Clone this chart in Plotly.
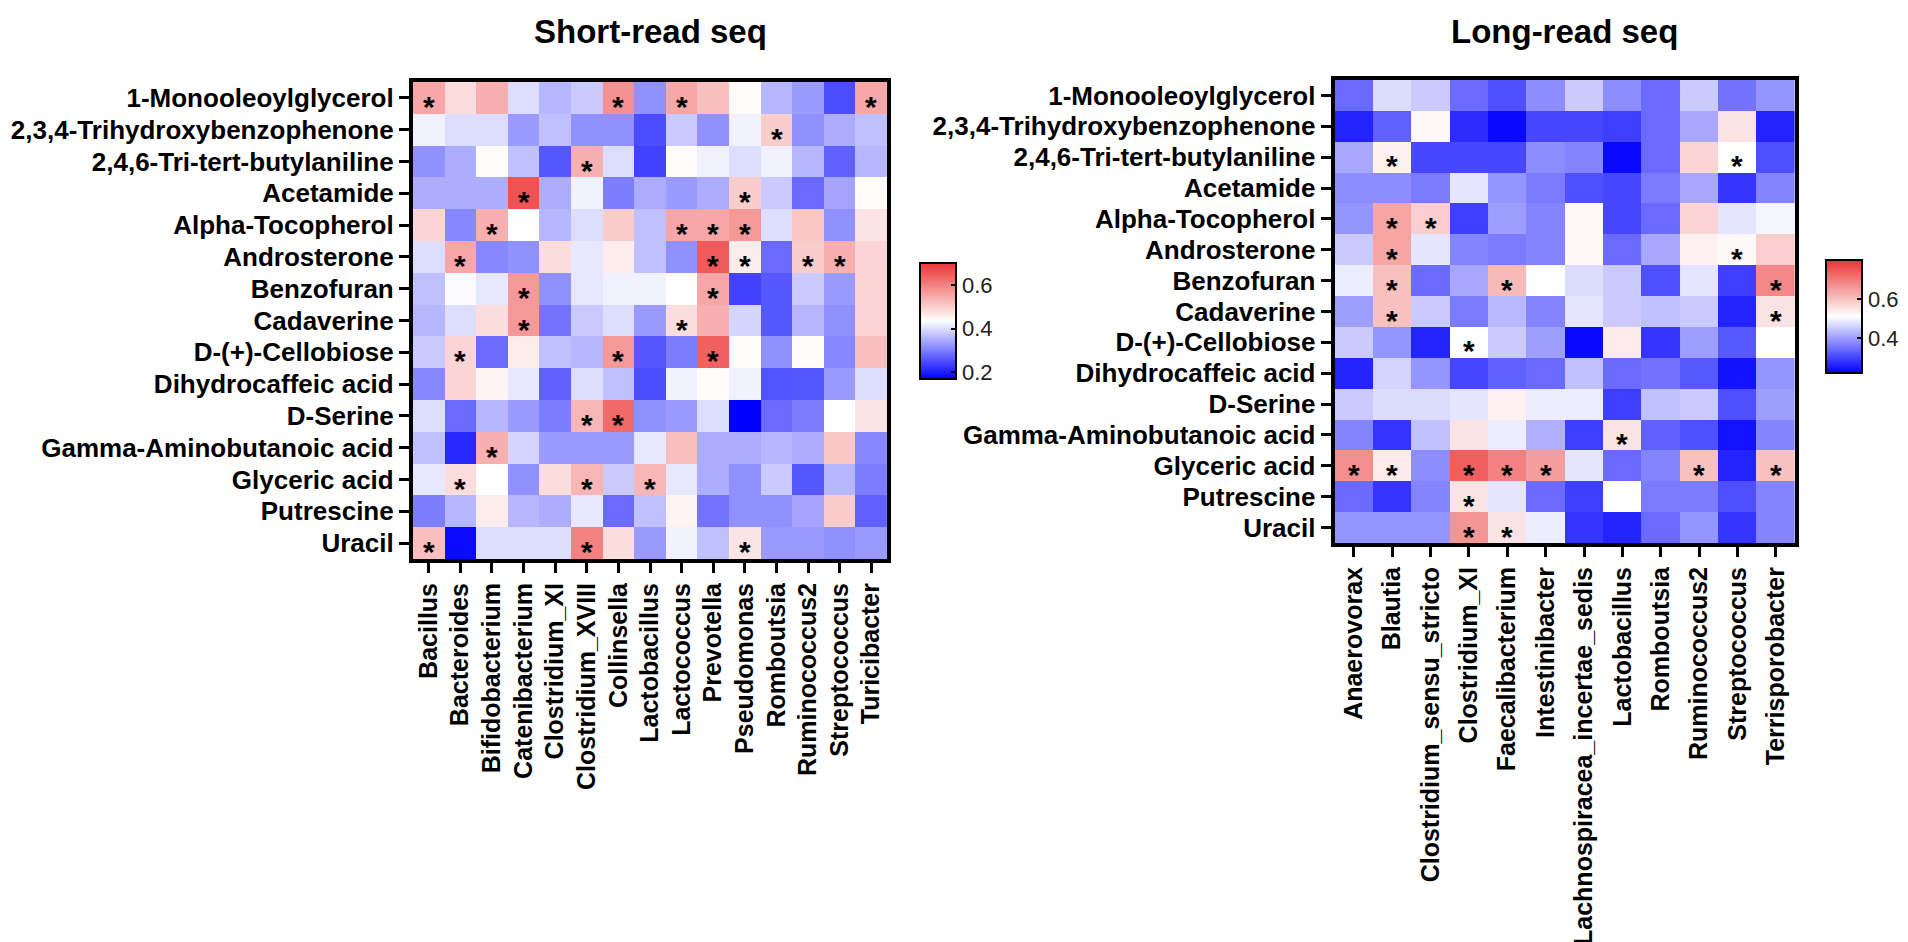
import plotly.graph_objects as go

FONT = "Liberation Sans, Arial, sans-serif"

metabolites = [
    "1-Monooleoylglycerol", "2,3,4-Trihydroxybenzophenone", "2,4,6-Tri-tert-butylaniline",
    "Acetamide", "Alpha-Tocopherol", "Androsterone", "Benzofuran", "Cadaverine",
    "D-(+)-Cellobiose", "Dihydrocaffeic acid", "D-Serine", "Gamma-Aminobutanoic acid",
    "Glyceric acid", "Putrescine", "Uracil",
]

short_genera = [
    "Bacillus", "Bacteroides", "Bifidobacterium", "Catenibacterium", "Clostridium_XI",
    "Clostridium_XVIII", "Collinsella", "Lactobacillus", "Lactococcus", "Prevotella",
    "Pseudomonas", "Romboutsia", "Ruminococcus2", "Streptococcus", "Turicibacter",
]

long_genera = [
    "Anaerovorax", "Blautia", "Clostridium_sensu_stricto", "Clostridium_XI",
    "Faecalibacterium", "Intestinibacter", "Lachnospiracea_incertae_sedis", "Lactobacillus",
    "Romboutsia", "Ruminococcus2", "Streptococcus", "Terrisporobacter",
]

short_values = [
    [0.55, 0.48, 0.54, 0.40, 0.36, 0.38, 0.58, 0.32, 0.55, 0.52, 0.44, 0.36, 0.33, 0.25, 0.55],
    [0.42, 0.40, 0.40, 0.33, 0.37, 0.32, 0.32, 0.25, 0.38, 0.32, 0.42, 0.50, 0.32, 0.35, 0.37],
    [0.32, 0.35, 0.44, 0.37, 0.26, 0.54, 0.40, 0.24, 0.44, 0.42, 0.40, 0.42, 0.36, 0.27, 0.36],
    [0.35, 0.35, 0.35, 0.66, 0.35, 0.42, 0.30, 0.35, 0.33, 0.35, 0.50, 0.38, 0.28, 0.34, 0.44],
    [0.49, 0.31, 0.54, 0.435, 0.36, 0.40, 0.50, 0.37, 0.55, 0.55, 0.57, 0.40, 0.51, 0.32, 0.47],
    [0.40, 0.55, 0.31, 0.32, 0.48, 0.41, 0.46, 0.37, 0.32, 0.65, 0.46, 0.28, 0.50, 0.54, 0.49],
    [0.37, 0.43, 0.41, 0.57, 0.32, 0.41, 0.42, 0.42, 0.435, 0.55, 0.24, 0.26, 0.38, 0.33, 0.49],
    [0.36, 0.40, 0.48, 0.57, 0.29, 0.38, 0.40, 0.33, 0.48, 0.54, 0.39, 0.26, 0.36, 0.32, 0.49],
    [0.38, 0.49, 0.28, 0.46, 0.37, 0.36, 0.57, 0.26, 0.30, 0.64, 0.44, 0.32, 0.44, 0.31, 0.52],
    [0.31, 0.49, 0.45, 0.41, 0.27, 0.40, 0.37, 0.25, 0.42, 0.44, 0.42, 0.255, 0.26, 0.33, 0.40],
    [0.40, 0.28, 0.36, 0.33, 0.30, 0.53, 0.63, 0.32, 0.33, 0.40, 0.17, 0.28, 0.30, 0.435, 0.47],
    [0.37, 0.21, 0.54, 0.39, 0.33, 0.33, 0.33, 0.41, 0.52, 0.35, 0.35, 0.36, 0.35, 0.51, 0.31],
    [0.41, 0.48, 0.435, 0.32, 0.48, 0.53, 0.38, 0.53, 0.41, 0.35, 0.32, 0.38, 0.26, 0.36, 0.30],
    [0.30, 0.36, 0.46, 0.36, 0.35, 0.41, 0.28, 0.37, 0.45, 0.29, 0.32, 0.32, 0.34, 0.50, 0.27],
    [0.52, 0.18, 0.40, 0.40, 0.40, 0.60, 0.48, 0.33, 0.42, 0.37, 0.47, 0.33, 0.33, 0.32, 0.33],
]

short_sig = [
    [1, 0, 0, 0, 0, 0, 1, 0, 1, 0, 0, 0, 0, 0, 1],
    [0, 0, 0, 0, 0, 0, 0, 0, 0, 0, 0, 1, 0, 0, 0],
    [0, 0, 0, 0, 0, 1, 0, 0, 0, 0, 0, 0, 0, 0, 0],
    [0, 0, 0, 1, 0, 0, 0, 0, 0, 0, 1, 0, 0, 0, 0],
    [0, 0, 1, 0, 0, 0, 0, 0, 1, 1, 1, 0, 0, 0, 0],
    [0, 1, 0, 0, 0, 0, 0, 0, 0, 1, 1, 0, 1, 1, 0],
    [0, 0, 0, 1, 0, 0, 0, 0, 0, 1, 0, 0, 0, 0, 0],
    [0, 0, 0, 1, 0, 0, 0, 0, 1, 0, 0, 0, 0, 0, 0],
    [0, 1, 0, 0, 0, 0, 1, 0, 0, 1, 0, 0, 0, 0, 0],
    [0, 0, 0, 0, 0, 0, 0, 0, 0, 0, 0, 0, 0, 0, 0],
    [0, 0, 0, 0, 0, 1, 1, 0, 0, 0, 0, 0, 0, 0, 0],
    [0, 0, 1, 0, 0, 0, 0, 0, 0, 0, 0, 0, 0, 0, 0],
    [0, 1, 0, 0, 0, 1, 0, 1, 0, 0, 0, 0, 0, 0, 0],
    [0, 0, 0, 0, 0, 0, 0, 0, 0, 0, 0, 0, 0, 0, 0],
    [1, 0, 0, 0, 0, 1, 0, 0, 0, 0, 1, 0, 0, 0, 0],
]

long_values = [
    [0.34, 0.47, 0.45, 0.34, 0.31, 0.38, 0.45, 0.38, 0.34, 0.45, 0.35, 0.39],
    [0.26, 0.33, 0.52, 0.27, 0.23, 0.30, 0.30, 0.29, 0.34, 0.41, 0.55, 0.26],
    [0.41, 0.53, 0.30, 0.30, 0.30, 0.38, 0.37, 0.23, 0.34, 0.57, 0.51, 0.31],
    [0.38, 0.38, 0.36, 0.48, 0.39, 0.36, 0.31, 0.30, 0.36, 0.41, 0.28, 0.37],
    [0.39, 0.64, 0.58, 0.29, 0.40, 0.37, 0.52, 0.30, 0.34, 0.57, 0.48, 0.50],
    [0.45, 0.64, 0.48, 0.37, 0.36, 0.37, 0.52, 0.34, 0.41, 0.53, 0.52, 0.58],
    [0.49, 0.60, 0.34, 0.41, 0.61, 0.51, 0.47, 0.45, 0.31, 0.48, 0.29, 0.68],
    [0.40, 0.60, 0.45, 0.36, 0.43, 0.37, 0.48, 0.45, 0.44, 0.45, 0.26, 0.55],
    [0.45, 0.39, 0.26, 0.51, 0.45, 0.40, 0.23, 0.54, 0.28, 0.40, 0.32, 0.51],
    [0.26, 0.46, 0.39, 0.30, 0.33, 0.34, 0.44, 0.34, 0.35, 0.32, 0.24, 0.39],
    [0.45, 0.47, 0.47, 0.48, 0.53, 0.49, 0.49, 0.29, 0.44, 0.45, 0.31, 0.40],
    [0.37, 0.28, 0.44, 0.55, 0.49, 0.42, 0.29, 0.55, 0.33, 0.31, 0.24, 0.37],
    [0.67, 0.54, 0.38, 0.74, 0.69, 0.65, 0.48, 0.34, 0.37, 0.60, 0.26, 0.60],
    [0.34, 0.28, 0.37, 0.55, 0.48, 0.34, 0.29, 0.51, 0.36, 0.36, 0.31, 0.37],
    [0.39, 0.39, 0.39, 0.66, 0.55, 0.49, 0.28, 0.26, 0.34, 0.39, 0.28, 0.37],
]

long_sig = [
    [0, 0, 0, 0, 0, 0, 0, 0, 0, 0, 0, 0],
    [0, 0, 0, 0, 0, 0, 0, 0, 0, 0, 0, 0],
    [0, 1, 0, 0, 0, 0, 0, 0, 0, 0, 1, 0],
    [0, 0, 0, 0, 0, 0, 0, 0, 0, 0, 0, 0],
    [0, 1, 1, 0, 0, 0, 0, 0, 0, 0, 0, 0],
    [0, 1, 0, 0, 0, 0, 0, 0, 0, 0, 1, 0],
    [0, 1, 0, 0, 1, 0, 0, 0, 0, 0, 0, 1],
    [0, 1, 0, 0, 0, 0, 0, 0, 0, 0, 0, 1],
    [0, 0, 0, 1, 0, 0, 0, 0, 0, 0, 0, 0],
    [0, 0, 0, 0, 0, 0, 0, 0, 0, 0, 0, 0],
    [0, 0, 0, 0, 0, 0, 0, 0, 0, 0, 0, 0],
    [0, 0, 0, 0, 0, 0, 0, 1, 0, 0, 0, 0],
    [1, 1, 0, 1, 1, 1, 0, 0, 0, 1, 0, 1],
    [0, 0, 0, 1, 0, 0, 0, 0, 0, 0, 0, 0],
    [0, 0, 0, 1, 1, 0, 0, 0, 0, 0, 0, 0],
]

short_range = [0.17, 0.70]
long_range = [0.22, 0.80]
short_ticks = [0.2, 0.4, 0.6]
long_ticks = [0.4, 0.6]

W, H = 1908, 942
colorscale = [[0.0, "rgb(0,0,255)"], [0.5, "rgb(255,255,255)"], [1.0, "rgb(236,52,52)"]]


def px_x(p):
    return p / W


def px_y(p):
    return 1 - p / H


fig = go.Figure()

fig.add_trace(go.Heatmap(
    z=short_values, x=short_genera, y=metabolites,
    zmin=short_range[0], zmax=short_range[1], colorscale=colorscale,
    xaxis="x", yaxis="y", xgap=0, ygap=0, hoverongaps=False,
    colorbar=dict(
        x=px_x(911), xanchor="left", y=px_y(313), yanchor="middle",
        len=136, lenmode="pixels", thickness=36, thicknessmode="pixels",
        outlinewidth=2, outlinecolor="black",
        tickvals=short_ticks, tickformat=".1f", ticks="inside", ticklen=6,
        tickwidth=2, tickcolor="black",
        tickfont=dict(family=FONT, size=22, color="#222"),
    ),
))

fig.add_trace(go.Heatmap(
    z=long_values, x=long_genera, y=metabolites,
    zmin=long_range[0], zmax=long_range[1], colorscale=colorscale,
    xaxis="x2", yaxis="y2", xgap=0, ygap=0, hoverongaps=False,
    colorbar=dict(
        x=px_x(1826), xanchor="left", y=px_y(308.5), yanchor="middle",
        len=133, lenmode="pixels", thickness=36, thicknessmode="pixels",
        outlinewidth=2, outlinecolor="black",
        tickvals=long_ticks, tickformat=".1f", ticks="inside", ticklen=6,
        tickwidth=2, tickcolor="black",
        tickfont=dict(family=FONT, size=22, color="#222"),
    ),
))

annotations = []
# significance asterisks, placed on the heatmap categories
for sig, cols, xr, yr in [(short_sig, short_genera, "x", "y"), (long_sig, long_genera, "x2", "y2")]:
    for i, row in enumerate(sig):
        for j, flag in enumerate(row):
            if flag:
                annotations.append(dict(
                    x=cols[j], y=metabolites[i], xref=xr, yref=yr, text="<b>*</b>",
                    showarrow=False, yshift=-8, width=20, height=22,
                    xanchor="center", yanchor="middle", valign="middle",
                    font=dict(family=FONT, size=30, color="black"),
                ))

annotations += [
    dict(x=px_x(648.5), y=px_y(24), xref="paper", yref="paper",
         text="<b>Short-read seq</b>", showarrow=False, xanchor="center", yanchor="middle",
         font=dict(family=FONT, size=33, color="black")),
    dict(x=px_x(1572.5), y=px_y(24), xref="paper", yref="paper",
         text="<b>Long-read seq</b>", showarrow=False, xanchor="center", yanchor="middle",
         font=dict(family=FONT, size=33, color="black")),
]

common = dict(showline=True, linewidth=4, linecolor="black", mirror=True,
              ticks="outside", ticklen=10, tickwidth=3, tickcolor="black",
              showgrid=False, zeroline=False, fixedrange=True, type="category")
xfont = dict(family=FONT, size=25, color="black", weight="bold")
yfont = dict(family=FONT, size=26, color="black", weight="bold")

fig.update_layout(
    width=W, height=H,
    margin=dict(l=0, r=0, t=0, b=0),
    paper_bgcolor="white", plot_bgcolor="white",
    xaxis=dict(domain=[px_x(409), px_x(888)], anchor="y", tickangle=-90, tickfont=xfont,
               tickmode="array", tickvals=short_genera, range=[-0.5, len(short_genera) - 0.5], **common),
    yaxis=dict(domain=[px_y(551), px_y(74)], anchor="x", tickfont=yfont,
               tickmode="array", tickvals=metabolites, range=[len(metabolites) - 0.5, -0.5], **common),
    xaxis2=dict(domain=[px_x(1340), px_x(1805)], anchor="y2", tickangle=-90, tickfont=xfont,
                tickmode="array", tickvals=long_genera, range=[-0.5, len(long_genera) - 0.5], **common),
    yaxis2=dict(domain=[px_y(535), px_y(72)], anchor="x2", tickfont=yfont,
                tickmode="array", tickvals=metabolites, range=[len(metabolites) - 0.5, -0.5], **common),
    annotations=annotations,
    showlegend=False,
)

fig.write_html("out.html")
